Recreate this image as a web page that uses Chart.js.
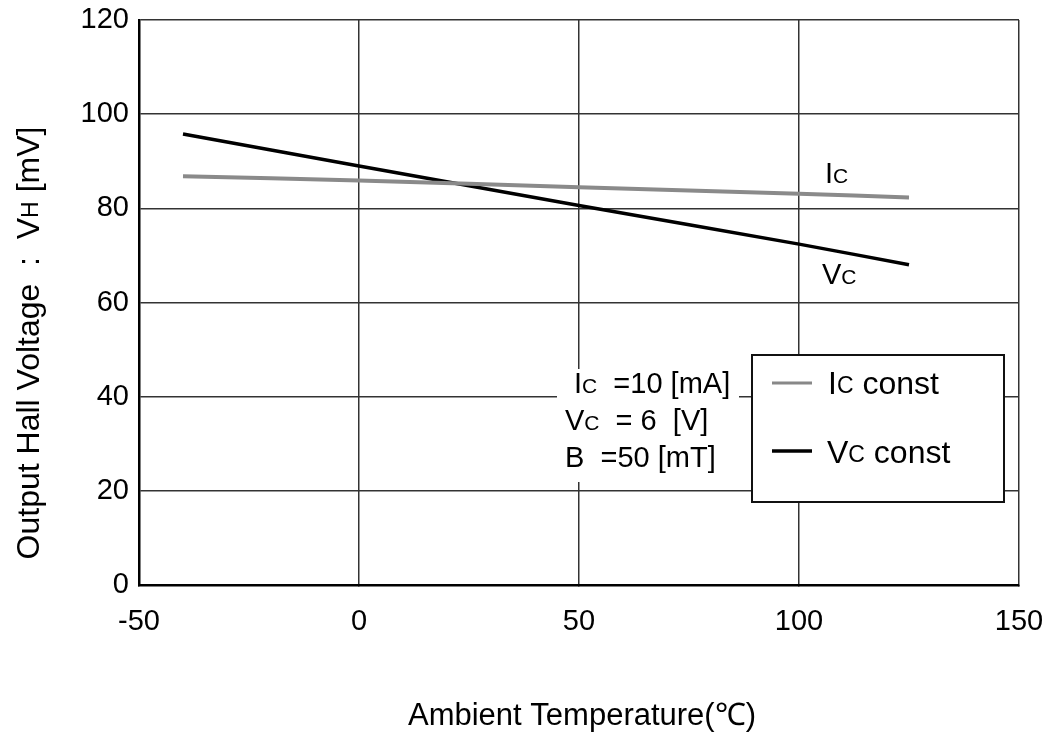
<!DOCTYPE html>
<html>
<head>
<meta charset="utf-8">
<script src="https://cdn.jsdelivr.net/npm/chart.js@4/dist/chart.umd.min.js"></script>
<style>
  html, body { margin: 0; padding: 0; background: #fff; }
  canvas { display: block; }
</style>
</head>
<body>
<canvas id="grafico" width="1044" height="732"></canvas>
<script>
// datos
const temperaturas = [-40, 0, 50, 100, 125];
const valoresIc = [86.8, 85.9, 84.5, 83.1, 82.3];
const valoresVc = [95.8, 89.0, 80.6, 72.4, 68.0];
const ticksX = [-50, 0, 50, 100, 150];
const ticksY = [0, 20, 40, 60, 80, 100, 120];

const fuente = '"Liberation Sans", Arial, sans-serif';

function puntos(xs, ys) {
    return xs.map((x, i) => ({ x: x, y: ys[i] }));
}

// escribe texto con subindices: partes = [[texto, esSub], ...]
function textoSub(ctx, partes, x, y, tam) {
    let px = x;
    partes.forEach(([t, sub]) => {
        ctx.font = (sub ? Math.round(tam * 0.72) : tam) + 'px ' + fuente;
        ctx.fillText(t, px, sub ? y + tam * 0.06 : y);
        px += ctx.measureText(t).width;
    });
    return px;
}

function anchoSub(ctx, partes, tam) {
    let w = 0;
    partes.forEach(([t, sub]) => {
        ctx.font = (sub ? Math.round(tam * 0.72) : tam) + 'px ' + fuente;
        w += ctx.measureText(t).width;
    });
    return w;
}

const extras = {
    id: 'extras',
    afterDatasetsDraw(chart) {
        const ctx = chart.ctx;
        ctx.save();
        ctx.fillStyle = '#000';
        ctx.textBaseline = 'middle';
        ctx.textAlign = 'left';

        // etiquetas de las curvas
        textoSub(ctx, [['I', false], ['C', true]], 825, 175, 29);
        textoSub(ctx, [['V', false], ['C', true]], 822, 276, 29);

        // bloque de condiciones
        ctx.fillStyle = '#fff';
        ctx.fillRect(557, 369, 182, 113);
        ctx.fillStyle = '#000';
        textoSub(ctx, [['I', false], ['C', true], ['  =10 [mA]', false]], 574, 385, 29);
        textoSub(ctx, [['V', false], ['C', true], ['  = 6  [V]', false]], 565, 422, 29);
        textoSub(ctx, [['B  =50 [mT]', false]], 565, 459, 29);

        // leyenda
        ctx.fillStyle = '#fff';
        ctx.fillRect(752, 355, 252, 147);
        ctx.strokeStyle = '#111';
        ctx.lineWidth = 2;
        ctx.strokeRect(752, 355, 252, 147);
        ctx.lineWidth = 3;
        ctx.strokeStyle = '#888';
        ctx.beginPath(); ctx.moveTo(772, 383); ctx.lineTo(812, 383); ctx.stroke();
        ctx.lineWidth = 3.5;
        ctx.strokeStyle = '#000';
        ctx.beginPath(); ctx.moveTo(772, 451); ctx.lineTo(812, 451); ctx.stroke();
        ctx.fillStyle = '#000';
        textoSub(ctx, [['I', false], ['C', true], [' const', false]], 828, 385, 32);
        textoSub(ctx, [['V', false], ['C', true], [' const', false]], 827, 454, 32);

        // titulo eje x
        ctx.textAlign = 'center';
        ctx.font = '31px ' + fuente;
        ctx.fillText('Ambient Temperature(\u2103)', 582, 716);

        // titulo eje y (girado)
        const partesY = [['Output Hall Voltage  :  V', false], ['H', true], [' [mV]', false]];
        ctx.translate(30, 343);
        ctx.rotate(-Math.PI / 2);
        ctx.textAlign = 'left';
        const w = anchoSub(ctx, partesY, 32);
        textoSub(ctx, partesY, -w / 2, 0, 32);
        ctx.restore();
    }
};

let canvasGrafico = document.getElementById('grafico');
let chartGrafico = new Chart(canvasGrafico, {
    type: 'line',
    data: {
        datasets: [
            {
                label: 'Ic const',
                data: puntos(temperaturas, valoresIc),
                borderColor: '#8a8a8a',
                borderWidth: 4,
                pointRadius: 0,
                tension: 0.3
            },
            {
                label: 'Vc const',
                data: puntos(temperaturas, valoresVc),
                borderColor: '#000',
                borderWidth: 3.5,
                pointRadius: 0,
                tension: 0.3
            }
        ]
    },
    options: {
        responsive: false,
        animation: false,
        layout: { padding: { top: 20, right: 25, left: 0, bottom: 0 } },
        plugins: { legend: { display: false }, tooltip: { enabled: false } },
        scales: {
            x: {
                type: 'linear',
                min: -50, max: 150,
                afterBuildTicks: (s) => { s.ticks = ticksX.map(v => ({ value: v })); },
                afterFit: (s) => { s.height = 147; s.paddingLeft = 0; s.paddingRight = 0; },
                grid: { color: '#333', lineWidth: 1.5, tickLength: 0 },
                border: { color: '#000', width: 2.5 },
                ticks: { color: '#000', padding: 20, autoSkip: false, maxRotation: 0, font: { family: fuente, size: 29 } }
            },
            y: {
                min: 0, max: 120,
                afterBuildTicks: (s) => { s.ticks = ticksY.map(v => ({ value: v })); },
                afterFit: (s) => { s.width = 139; s.paddingTop = 0; s.paddingBottom = 0; },
                grid: { color: '#333', lineWidth: 1.5, tickLength: 0 },
                border: { color: '#000', width: 2.5 },
                ticks: { color: '#000', padding: 10, autoSkip: false, font: { family: fuente, size: 29 } }
            }
        }
    },
    plugins: [extras]
});
</script>
</body>
</html>
